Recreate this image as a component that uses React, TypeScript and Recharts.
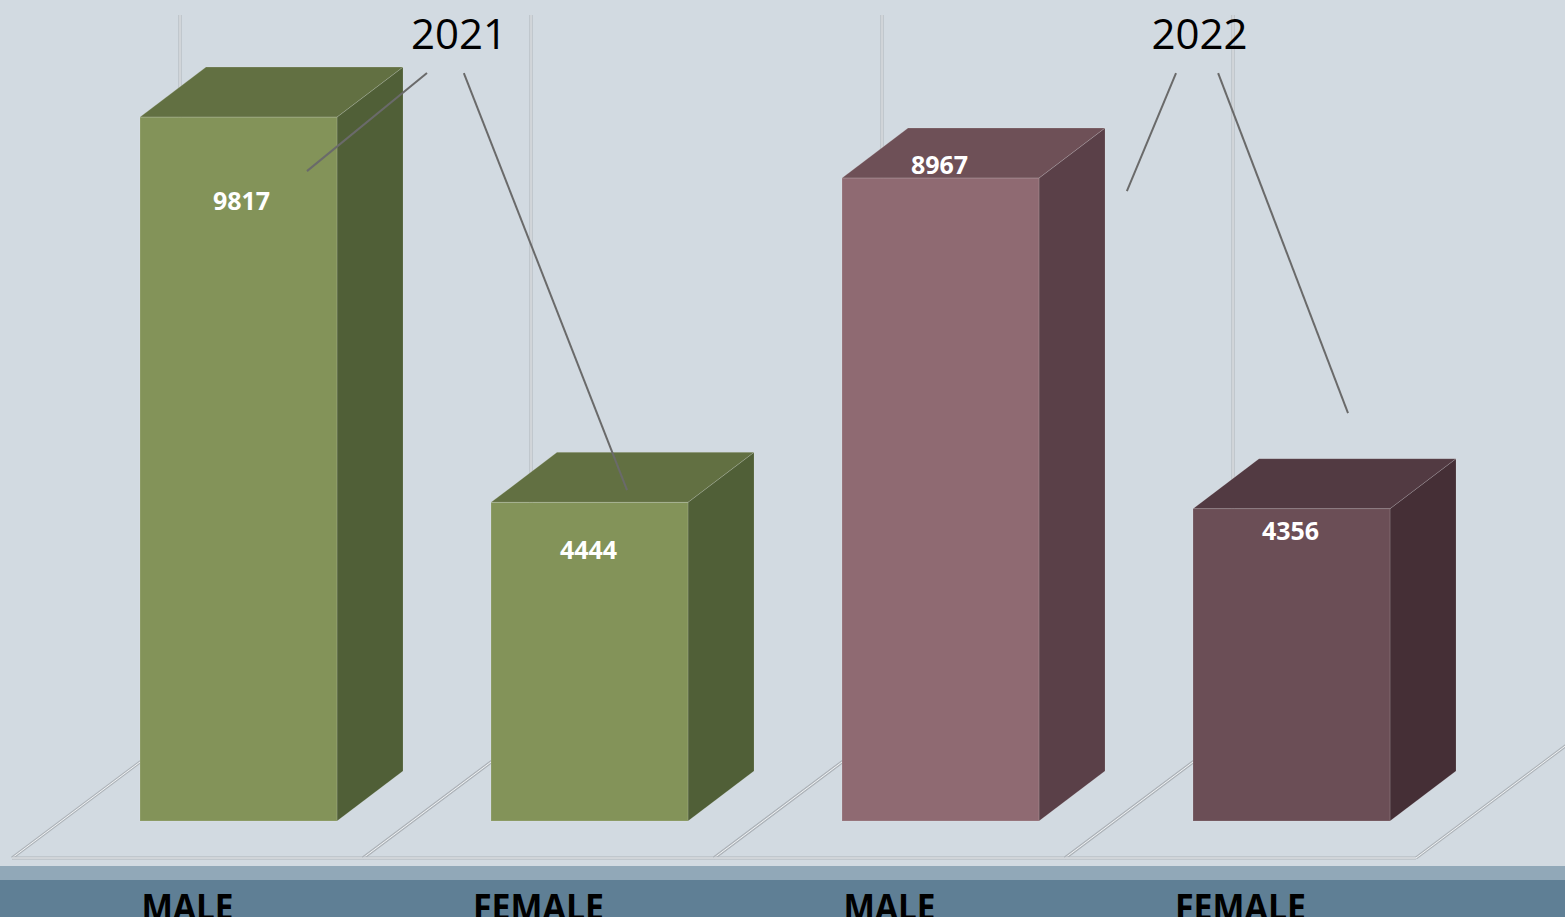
import React from 'react';
import { BarChart, Bar, XAxis, YAxis, LabelList } from 'recharts';

// ---------- data ----------
const categories = ['MALE', 'FEMALE', 'MALE', 'FEMALE'];
const years = ['2021', '2021', '2022', '2022'];
const values = [9817, 4444, 8967, 4356];

// year callouts: text anchor + leader lines, in chart coordinates
// (x = position along the category axis in band units, y = value units)
const calloutYears = ['2021', '2022'];
const calloutTextAnchors = [
  { x: 1.128, y: 10765 },
  { x: 3.238, y: 10765 },
];
const calloutLines = [
  [{ x: 1.037, y: 10431 }, { x: 0.695, y: 9064 }],
  [{ x: 1.142, y: 10431 }, { x: 1.607, y: 4616 }],
  [{ x: 3.171, y: 10431 }, { x: 3.031, y: 8785 }],
  [{ x: 3.291, y: 10431 }, { x: 3.661, y: 5689 }],
];

const data = categories.map((c, i) => ({ id: `${c}-${years[i]}`, category: c, year: years[i], value: values[i] }));

// ---------- layout / style ----------
const W = 1565;
const H = 917;
const MARGIN = { top: 104, right: 98, bottom: 0, left: 63 };
const AXIS_H = 96;
const BAND = (W - MARGIN.left - MARGIN.right) / categories.length;
const BAR_W = 197;
const Y_MAX = 10000;
const BAR_DEPTH = { dx: 66, dy: -50 };
const FLOOR_SHIFT = { dx: -51, dy: 37 };
const FLOOR_DEPTH = { dx: 168, dy: -126 };
const FONT = '"Open Sans", "Noto Sans", sans-serif';

const PALETTE = [
  { front: '#839359', top: '#627042', side: '#505f37' },
  { front: '#839359', top: '#627042', side: '#505f37' },
  { front: '#8f6a72', top: '#6e5057', side: '#5a4048' },
  { front: '#6b4e56', top: '#523a42', side: '#452f36' },
];
const LABEL_DX = [3, -1, -1, -1];
const LABEL_DY = [83, 47, -14, 21];

const DoubleLine = ({ x1, y1, x2, y2 }: any) => (
  <g>
    <line x1={x1} y1={y1} x2={x2} y2={y2} stroke="#aeb4ba" strokeWidth={3} />
    <line x1={x1} y1={y1} x2={x2} y2={y2} stroke="#f3f5f7" strokeWidth={1} />
  </g>
);

const Box3D = (props: any) => {
  const { x, y, width, height, index, payload } = props;
  const v = payload.value;
  const base = y + height;
  const k = height / v;
  const c = PALETTE[index % PALETTE.length];
  const bandStart = x - (BAND - width) / 2;
  const fx = bandStart + FLOOR_SHIFT.dx;
  const fy = base + FLOOR_SHIFT.dy;
  const bx = fx + FLOOR_DEPTH.dx;
  const by = fy + FLOOR_DEPTH.dy;
  const wallTop = by - Y_MAX * k;
  const { dx, dy } = BAR_DEPTH;
  const top = `${x},${y} ${x + dx},${y + dy} ${x + width + dx},${y + dy} ${x + width},${y}`;
  const side = `${x + width},${y} ${x + width + dx},${y + dy} ${x + width + dx},${base + dy} ${x + width},${base}`;
  return (
    <g>
      {/* floor cell + back wall gridline */}
      <DoubleLine x1={bx} y1={wallTop} x2={bx} y2={by} />
      <DoubleLine x1={fx} y1={fy} x2={bx} y2={by} />
      <DoubleLine x1={fx + BAND} y1={fy} x2={bx + BAND} y2={by} />
      <DoubleLine x1={fx} y1={fy} x2={fx + BAND} y2={fy} />
      {/* 3D bar */}
      <polygon points={side} fill={c.side} stroke="rgba(255,255,255,0.12)" strokeWidth={1} />
      <polygon points={top} fill={c.top} stroke="rgba(255,255,255,0.15)" strokeWidth={1} />
      <rect x={x} y={y} width={width} height={height} fill={c.front} stroke="rgba(255,255,255,0.15)" strokeWidth={1} />
    </g>
  );
};

const ValueLabel = (p: any) => {
  const { x, y, width, index, value } = p;
  return (
    <text
      x={x + width / 2 + LABEL_DX[index]}
      y={y + LABEL_DY[index]}
      textAnchor="middle"
      dominantBaseline="central"
      fill="#ffffff"
      fontFamily={FONT}
      fontWeight={700}
      fontSize={25}
    >
      {value}
    </text>
  );
};

// Draws the year callouts once (on the last bar's label pass, above all bars),
// converting chart coordinates through the bar's own scale geometry.
const CalloutLayer = (p: any) => {
  const { x, y, width, height, index, value } = p;
  if (index !== categories.length - 1) return null;
  const plotLeft = x - index * BAND - (BAND - width) / 2;
  const base = y + height;
  const k = height / value;
  const px = (pt: { x: number; y: number }) => [plotLeft + pt.x * BAND, base - pt.y * k];
  return (
    <g>
      {calloutLines.map((seg, i) => {
        const [x1, y1] = px(seg[0]);
        const [x2, y2] = px(seg[1]);
        return <line key={`cl-${i}`} x1={x1} y1={y1} x2={x2} y2={y2} stroke="#6a6a6a" strokeWidth={2} />;
      })}
      {calloutYears.map((yr, i) => {
        const [tx, ty] = px(calloutTextAnchors[i]);
        return (
          <text key={`cy-${i}`} x={tx} y={ty} textAnchor="middle" fill="#000000" fontFamily={FONT} fontSize={42}>
            {yr}
          </text>
        );
      })}
    </g>
  );
};

const CategoryTick = (p: any) => {
  const { x, y, payload } = p;
  const label = String(payload.value).split('-')[0];
  return (
    <text
      x={x + FLOOR_SHIFT.dx}
      y={y + 99}
      textAnchor="middle"
      fill="#000000"
      fontFamily={FONT}
      fontWeight={700}
      fontSize={36}
      textLength={14 + label.length * 19.5}
      lengthAdjust="spacingAndGlyphs"
    >
      {label}
    </text>
  );
};

export default function App() {
  return (
    <div style={{ position: 'absolute', left: 0, top: 0, width: W, height: H, background: '#d2dae1', overflow: 'hidden' }}>
      <div style={{ position: 'absolute', left: 0, top: 866, width: W, height: 14, background: '#91a8b8' }} />
      <div style={{ position: 'absolute', left: 0, top: 880, width: W, height: 37, background: '#5f7f95' }} />
      <div style={{ position: 'absolute', left: 0, top: 0 }}>
        <BarChart width={W} height={H} data={data} margin={MARGIN} barSize={BAR_W}>
          <XAxis
            dataKey="id"
            height={AXIS_H}
            axisLine={false}
            tickLine={false}
            tickSize={0}
            tickMargin={0}
            interval={0}
            tick={<CategoryTick />}
          />
          <YAxis hide domain={[0, Y_MAX]} />
          <Bar dataKey="value" shape={<Box3D />} isAnimationActive={false}>
            <LabelList dataKey="value" content={<ValueLabel />} />
            <LabelList dataKey="value" content={<CalloutLayer />} />
          </Bar>
        </BarChart>
      </div>
    </div>
  );
}
